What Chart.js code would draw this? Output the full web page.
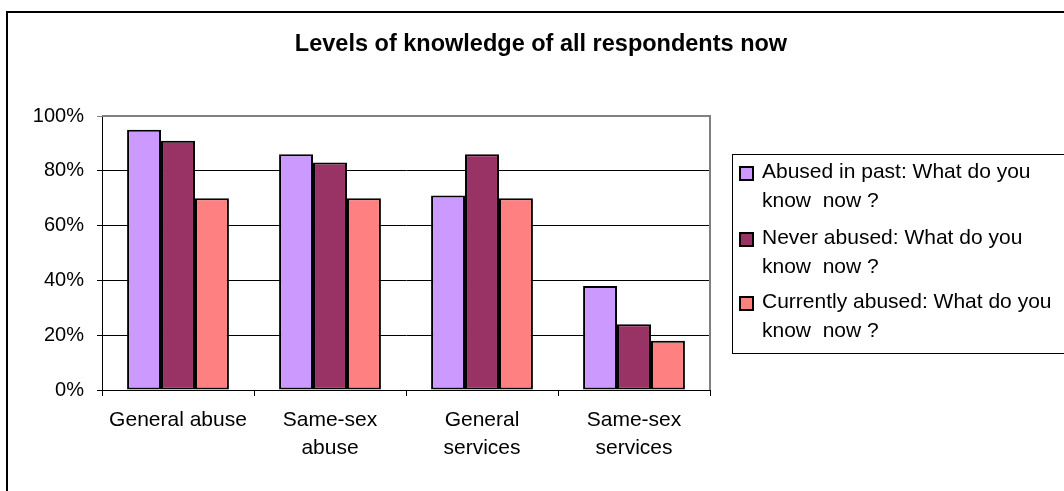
<!DOCTYPE html>
<html>
<head>
<meta charset="utf-8">
<script src="https://cdn.jsdelivr.net/npm/chart.js@4.4.0/dist/chart.umd.min.js"></script>
<style>
  html, body { margin: 0; padding: 0; background: #fff; }
</style>
</head>
<body>
<canvas id="myChart" width="1064" height="491"></canvas>
<script>
const categories = [['General abuse'], ['Same-sex', 'abuse'], ['General', 'services'], ['Same-sex', 'services']];
const seriesNames = [
  ['Abused in past: What do you', 'know  now ?'],
  ['Never abused: What do you', 'know  now ?'],
  ['Currently abused: What do you', 'know  now ?']
];
const abusedPast = [95, 86, 71, 38];
const neverAbused = [91, 83, 86, 24];
const currentlyAbused = [70, 70, 70, 18];
const seriesColors = ['#CC99FF', '#993366', '#FF8080'];

const FONT = "'Liberation Sans', Arial, sans-serif";

// border, title and the wrapped legend box
const decor = {
  id: 'decor',
  beforeDraw(chart) {
    const ctx = chart.ctx;
    ctx.save();
    ctx.fillStyle = '#fff';
    ctx.fillRect(0, 0, chart.width, chart.height);
    ctx.restore();
  },
  afterDraw(chart) {
    const ctx = chart.ctx;
    const a = chart.chartArea;
    ctx.save();

    ctx.strokeStyle = '#000';
    ctx.lineWidth = 2;
    ctx.strokeRect(7, 12, 1080, 500);

    // plot frame top + right in grey
    ctx.strokeStyle = '#808080';
    ctx.lineWidth = 2;
    ctx.beginPath();
    ctx.moveTo(a.left, a.top);
    ctx.lineTo(a.right, a.top);
    ctx.lineTo(a.right, a.bottom);
    ctx.stroke();

    ctx.fillStyle = '#000';
    ctx.font = 'bold 23.5px ' + FONT;
    ctx.textAlign = 'center';
    ctx.textBaseline = 'middle';
    ctx.fillText('Levels of knowledge of all respondents now', 541, 45);

    // legend
    ctx.strokeStyle = '#000';
    ctx.lineWidth = 1;
    ctx.strokeRect(732.5, 154.5, 400, 199);
    ctx.font = '21px ' + FONT;
    ctx.textAlign = 'left';
    const startY = [172, 238, 302];
    chart.data.datasets.forEach((ds, i) => {
      const y = startY[i];
      ctx.fillStyle = ds.backgroundColor;
      ctx.fillRect(740, y - 5, 13, 13);
      ctx.lineWidth = 2;
      ctx.strokeRect(740, y - 5, 13, 13);
      ctx.fillStyle = '#000';
      seriesNames[i].forEach((line, j) => {
        ctx.fillText(line, 762, y + j * 29);
      });
    });
    ctx.restore();
  }
};

const ctx = document.getElementById('myChart');

new Chart(ctx, {
  type: 'bar',
  data: {
    labels: categories,
    datasets: [abusedPast, neverAbused, currentlyAbused].map((vals, i) => ({
      label: seriesNames[i].join(' '),
      data: vals,
      backgroundColor: seriesColors[i],
      borderColor: '#000',
      borderWidth: 2,
      borderSkipped: false,
      categoryPercentage: 0.67,
      barPercentage: 1.0
    }))
  },
  options: {
    responsive: false,
    animation: false,
    layout: { padding: { top: 116, right: 354, bottom: 0, left: 0 } },
    plugins: {
      legend: { display: false },
      title: { display: false },
      tooltip: { enabled: false }
    },
    scales: {
      x: {
        afterFit(scale) { scale.height = 101; },
        grid: {
          drawOnChartArea: false,
          drawTicks: true,
          tickLength: 6,
          color: '#000',
          offset: true
        },
        border: { color: '#000', width: 1 },
        ticks: {
          color: '#000',
          padding: 10,
          font: { family: FONT, size: 21, lineHeight: 1.35 },
          maxRotation: 0
        }
      },
      y: {
        min: 0,
        max: 100,
        afterFit(scale) { scale.width = 102; },
        grid: {
          color: (c) => (c.tick && c.tick.value === 100 ? '#808080' : '#000'),
          lineWidth: 1,
          tickLength: 5,
          drawTicks: true
        },
        border: { color: '#000', width: 1 },
        ticks: {
          stepSize: 20,
          color: '#000',
          padding: 13,
          font: { family: FONT, size: 20 },
          callback: (v) => v + '%'
        }
      }
    }
  },
  plugins: [decor]
});
</script>
</body>
</html>
